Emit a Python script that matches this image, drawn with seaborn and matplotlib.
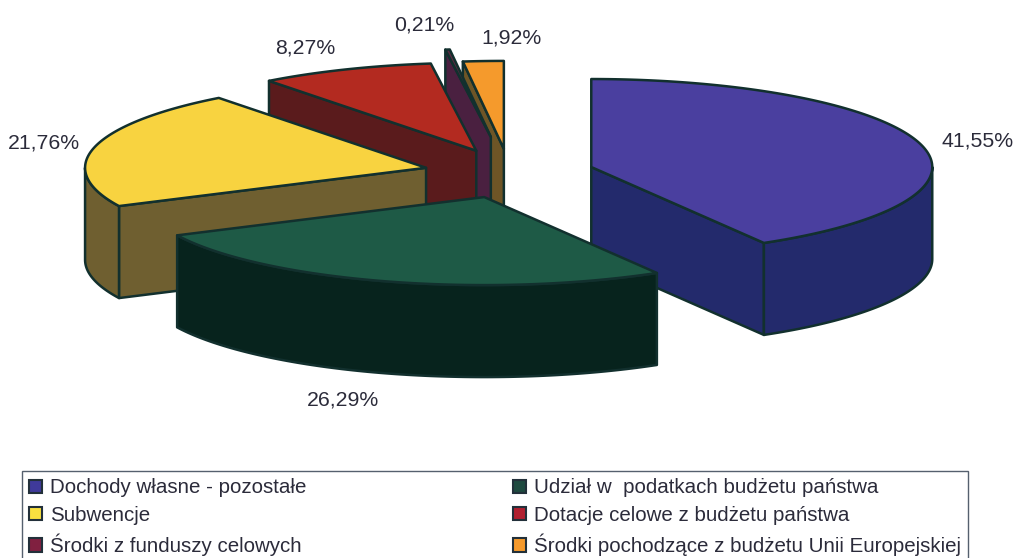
import numpy as np
import matplotlib
matplotlib.use("Agg")
import matplotlib.pyplot as plt
from matplotlib.patches import Patch
import seaborn as sns

categories = ["Dochody własne - pozostałe", "Udział w  podatkach budżetu państwa", "Subwencje",
              "Dotacje celowe z budżetu państwa", "Środki z funduszy celowych",
              "Środki pochodzące z budżetu Unii Europejskiej"]
values = [41.55, 26.29, 21.76, 8.27, 0.21, 1.92]
top_colors = ["#4a3f9f", "#1e5a46", "#f8d340", "#b32a20", "#5e2b42", "#f59a2c"]
side_colors = ["#232a6c", "#07231d", "#6f5f30", "#5a1b1c", "#4a2040", "#6e5526"]
legend_colors = ["#3f3a9a", "#1e4a40", "#f8e040", "#b02030", "#802040", "#f59a2c"]

sns.set_theme(style="white")
plt.rcParams["font.family"] = ["Liberation Sans", "DejaVu Sans"]
W, H = 1014, 558
CX, CY, RX, RY, DEPTH = 509, 173.5, 341, 88, 92
EXPLODE_X = [0.25, 0.25, 0.25, 0.25, 0.42, 0.25]
EXPLODE_Y = [0.28, 0.28, 0.28, 0.28, 0.42, 0.28]
EDGE = "#12302e"
TEXT = "#2b2b3a"
# label nudges (px) from the wedge's rim middle
NUDGE = [(57, -3), (-42, 119), (-50, -4), (-40, -21), (-23, -25), (28, -23)]

fig = plt.figure(figsize=(W / 100, H / 100), dpi=100)
ax = fig.add_axes([0, 0, 1, 1])
ax.set_xlim(0, W)
ax.set_ylim(H, 0)
ax.axis("off")

cum = np.concatenate([[0], np.cumsum(values)]) / sum(values) * 2 * np.pi


def rim(cx, cy, a, b):
    t = np.linspace(a, b, max(int((b - a) * 60), 2))
    return cx + RX * np.sin(t), cy - RY * np.cos(t)


def face(xs, ys, color, z):
    ax.fill(xs, ys, facecolor=color, edgecolor=EDGE, lw=1.8, joinstyle="round", zorder=z)


wedges = []
for i, v in enumerate(values):
    a, b = cum[i], cum[i + 1]
    m = (a + b) / 2
    wedges.append((i, a, b, m, CX + EXPLODE_X[i] * RX * np.sin(m), CY - EXPLODE_Y[i] * RY * np.cos(m)))

# back to front: further-back mid-angles first, nearer the viewer last
order = sorted(wedges, key=lambda w: (round(-np.cos(w[3]), 2), -w[3]))
for z, (i, a, b, m, cx, cy) in enumerate(order):
    zb = z * 10
    side, top = side_colors[i], top_colors[i]
    if np.sin(b) > 1e-6:
        xe, ye = rim(cx, cy, b, b)
        face([cx, xe[0], xe[0], cx], [cy, ye[0], ye[0] + DEPTH, cy + DEPTH], side, zb)
    if np.sin(a) < -1e-6:
        xe, ye = rim(cx, cy, a, a)
        face([cx, xe[0], xe[0], cx], [cy, ye[0], ye[0] + DEPTH, cy + DEPTH], side, zb + 1)
    lo, hi = max(a, np.pi / 2), min(b, 3 * np.pi / 2)
    if hi > lo:
        xr, yr = rim(cx, cy, lo, hi)
        face(np.r_[xr, xr[::-1]], np.r_[yr, yr[::-1] + DEPTH], side, zb + 2)
    xr, yr = rim(cx, cy, a, b)
    face(np.r_[cx, xr], np.r_[cy, yr], top, zb + 3)
    lx, ly = cx + RX * np.sin(m), cy - RY * np.cos(m)
    ax.text(lx + NUDGE[i][0], ly + NUDGE[i][1], f"{values[i]:.2f}%".replace(".", ","),
            ha="center", va="center", fontsize=15.3, color=TEXT, zorder=200)

handles = [Patch(facecolor=legend_colors[i], edgecolor="#22303a", lw=1.5, label=categories[i]) for i in range(6)]
leg_order = [0, 2, 4, 1, 3, 5]
leg = ax.legend(handles=[handles[i] for i in leg_order], ncol=2, loc="upper left",
                bbox_to_anchor=(22, 471, 946, 95), bbox_transform=ax.transData, mode="expand",
                fontsize=14.8, labelcolor=TEXT, frameon=True, fancybox=False, edgecolor="#55606e",
                handlelength=0.62, handleheight=0.62, handletextpad=0.38, labelspacing=0.42,
                borderaxespad=0, borderpad=0.36, framealpha=1)
leg.get_frame().set_linewidth(1.0)
leg.set_zorder(300)
fig.savefig("out.png", dpi=100)
